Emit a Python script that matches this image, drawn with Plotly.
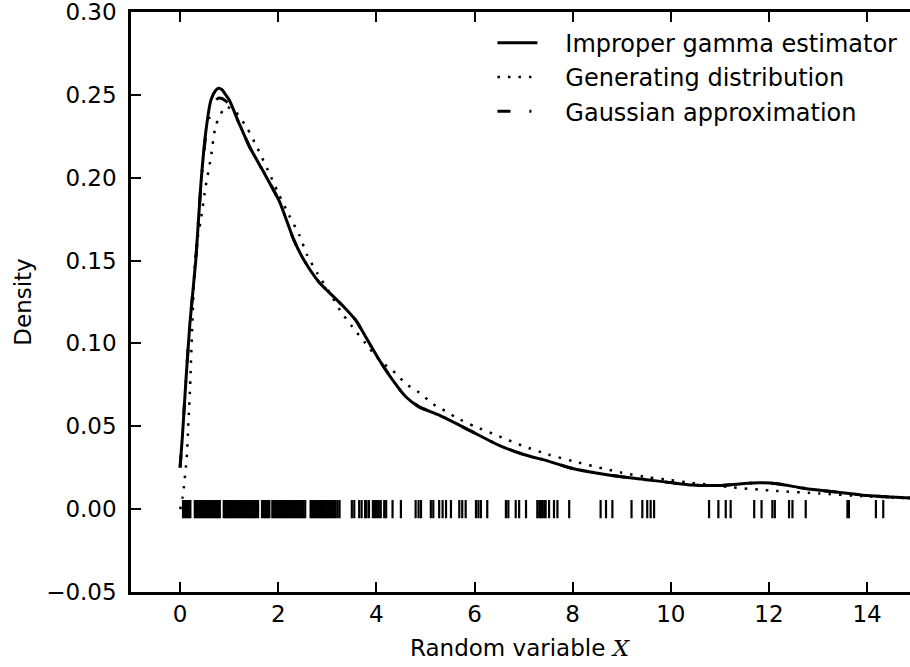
import plotly.graph_objects as go

# Improper gamma estimator (solid)
est_x = [0.0, 0.05, 0.12, 0.2, 0.32, 0.42, 0.52, 0.63, 0.72, 0.78, 0.85, 0.92, 1.0, 1.2, 1.41,
         1.68, 2.02, 2.32, 2.53, 2.83, 3.1, 3.34, 3.58, 3.82, 4.06, 4.33, 4.6, 4.87, 5.28,
         5.69, 6.0, 6.5, 7.0, 7.5, 8.0, 8.54, 9.0, 9.5, 10.0, 10.44, 11.0, 11.4, 11.8, 12.2,
         12.61, 13.0, 13.63, 14.0, 14.5, 14.9]
est_y = [0.025, 0.045, 0.078, 0.112, 0.150, 0.1945, 0.2267, 0.247, 0.2525, 0.254, 0.2532, 0.2505,
         0.247, 0.233, 0.219, 0.2046, 0.186, 0.1623, 0.150, 0.137, 0.129, 0.122, 0.114, 0.102,
         0.090, 0.078, 0.0678, 0.0617, 0.0567, 0.0507, 0.046, 0.0385, 0.033, 0.029, 0.0245,
         0.0215, 0.0195, 0.0178, 0.016, 0.0145, 0.0143, 0.0152, 0.0159, 0.0152, 0.0131,
         0.0115, 0.0095, 0.0082, 0.0073, 0.0067]

# Gaussian approximation (dash-dot), nearly on top of the estimator
gau_x = est_x
gau_y = [0.025, 0.045, 0.078, 0.112, 0.150, 0.1935, 0.2245, 0.241, 0.2465, 0.248, 0.2478, 0.2465,
         0.2445, 0.233, 0.219, 0.2046, 0.186, 0.1623, 0.150, 0.137, 0.129, 0.122, 0.114, 0.102,
         0.090, 0.078, 0.0678, 0.0617, 0.0567, 0.0507, 0.046, 0.0385, 0.033, 0.029, 0.0245,
         0.0215, 0.0195, 0.0178, 0.016, 0.0145, 0.0143, 0.0152, 0.0159, 0.0152, 0.0131,
         0.0115, 0.0095, 0.0082, 0.0073, 0.0067]

# Generating distribution (dotted)
gen_x = [0.0, 0.03, 0.05, 0.08, 0.1, 0.12, 0.14, 0.16, 0.18, 0.2, 0.32, 0.42, 0.52, 0.63, 0.73,
         0.93, 1.13, 1.37, 1.58, 1.85, 2.02, 2.22, 2.43, 2.59, 2.8, 3.04, 3.26, 3.51, 3.78,
         4.06, 4.23, 4.4, 4.56, 4.73, 4.91, 5.07, 5.24, 5.45, 5.62, 6.0, 6.5, 7.0, 7.5, 8.0,
         8.68, 9.0, 9.56, 10.0, 10.41, 11.0, 11.26, 12.14, 13.02, 13.9, 14.9]
gen_y = [0.0, 0.003, 0.007, 0.0135, 0.02, 0.026, 0.033, 0.046, 0.0585, 0.071, 0.156, 0.174,
         0.1945, 0.2126, 0.2317, 0.2428, 0.2398, 0.2297, 0.2177, 0.2006, 0.1895, 0.1774,
         0.1654, 0.1533, 0.1422, 0.1311, 0.120, 0.110, 0.100, 0.090, 0.0859, 0.0819, 0.0768,
         0.0728, 0.0698, 0.0654, 0.0617, 0.0587, 0.0553, 0.050, 0.044, 0.038, 0.033, 0.029,
         0.0241, 0.022, 0.0191, 0.0175, 0.0159, 0.014, 0.0131, 0.011, 0.0095, 0.0078, 0.0065]

# Observed sample (rug)
sample = [0.06, 0.09, 0.12, 0.15, 0.18, 0.21, 0.30, 0.33, 0.36, 0.39, 0.42, 0.45, 0.48, 0.51,
          0.54, 0.57, 0.60, 0.63, 0.66, 0.69, 0.72, 0.75, 0.78, 0.81, 0.89, 0.92, 0.95, 0.98,
          1.01, 1.04, 1.07, 1.10, 1.13, 1.16, 1.19, 1.22, 1.25, 1.28, 1.31, 1.34, 1.37, 1.40,
          1.43, 1.46, 1.49, 1.52, 1.55, 1.59, 1.67, 1.70, 1.73, 1.76, 1.79, 1.82, 1.88, 1.91,
          1.94, 1.97, 2.00, 2.03, 2.06, 2.09, 2.12, 2.15, 2.18, 2.21, 2.24, 2.27, 2.30, 2.33,
          2.36, 2.39, 2.42, 2.45, 2.48, 2.51, 2.55, 2.66, 2.69, 2.72, 2.75, 2.78, 2.81, 2.84,
          2.87, 2.90, 2.93, 2.96, 2.99, 3.02, 3.05, 3.08, 3.11, 3.14, 3.17, 3.21, 3.25, 3.50,
          3.55, 3.65, 3.70, 3.77, 3.80, 3.85, 3.93, 3.97, 4.01, 4.05, 4.09, 4.16, 4.20, 4.33,
          4.50, 4.80, 4.86, 4.91, 5.11, 5.16, 5.28, 5.35, 5.42, 5.52, 5.69, 5.75, 5.82, 6.03,
          6.08, 6.13, 6.26, 6.64, 6.69, 6.84, 6.91, 7.05, 7.28, 7.32, 7.35, 7.38, 7.42, 7.45,
          7.52, 7.62, 7.69, 7.93, 8.57, 8.68, 8.81, 9.20, 9.42, 9.52, 9.59, 9.66, 10.78, 10.97,
          11.12, 11.22, 11.70, 11.85, 12.07, 12.12, 12.41, 12.48, 12.75, 13.60, 13.63, 14.18,
          14.33]
rug_y = [0.0] * len(sample)

x_ticks = [0, 2, 4, 6, 8, 10, 12, 14]
x_labels = ["0", "2", "4", "6", "8", "10", "12", "14"]
y_ticks = [-0.05, 0.0, 0.05, 0.10, 0.15, 0.20, 0.25, 0.30]
y_labels = ["\u22120.05", "0.00", "0.05", "0.10", "0.15", "0.20", "0.25", "0.30"]

FONT = "DejaVu Sans"
PAD = "\u00a0\u00a0\u00a0"

fig = go.Figure()
fig.add_trace(go.Scatter(x=est_x, y=est_y, mode="lines", name=PAD + "Improper gamma estimator",
                         line=dict(color="black", width=3, shape="spline", smoothing=0.6)))
fig.add_trace(go.Scatter(x=gen_x, y=gen_y, mode="lines", name=PAD + "Generating distribution",
                         line=dict(color="black", width=2.5, dash="2.5px,8px",
                                   shape="spline", smoothing=0.6)))
fig.add_trace(go.Scatter(x=gau_x, y=gau_y, mode="lines", name=PAD + "Gaussian approximation",
                         line=dict(color="black", width=3, dash="13px,19px,2px,19px",
                                   shape="spline", smoothing=0.6)))
fig.add_trace(go.Scatter(x=sample, y=rug_y, mode="markers", showlegend=False,
                         marker=dict(symbol="line-ns-open", size=13, color="black",
                                     line=dict(color="black", width=2.2))))

fig.update_layout(
    width=910, height=667,
    margin=dict(l=131, r=0, t=12, b=75),
    paper_bgcolor="white", plot_bgcolor="white",
    font=dict(family=FONT, size=23, color="black"),
    showlegend=True,
    legend=dict(x=0.464, y=0.985, xanchor="left", yanchor="top",
                bgcolor="rgba(0,0,0,0)", borderwidth=0,
                font=dict(family=FONT, size=24, color="black"),
                itemwidth=40, tracegroupgap=0),
    xaxis=dict(range=[-1, 14.875], tickvals=x_ticks, ticktext=x_labels,
               ticks="inside", ticklen=10, tickwidth=1.5, tickcolor="black",
               showline=True, linecolor="black", linewidth=2.5, mirror="ticks",
               showgrid=False, zeroline=False, ticklabelstandoff=0,
               ticklabeloverflow="allow"),
    yaxis=dict(range=[-0.05, 0.30], tickvals=y_ticks, ticktext=y_labels,
               ticks="inside", ticklen=10, tickwidth=1.5, tickcolor="black",
               showline=True, linecolor="black", linewidth=2.5, mirror=False,
               showgrid=False, zeroline=False, ticklabelstandoff=7,
               ticklabeloverflow="allow"),
    annotations=[
        dict(text="Random variable <i><span style=\"font-family:DejaVu Serif\">X</span></i>",
             xref="paper", yref="paper",
             x=0.5, y=-0.0966, yanchor="middle", xanchor="center", showarrow=False,
             font=dict(family=FONT, size=23, color="black")),
        dict(text="Density", xref="paper", yref="paper", x=-0.139, y=0.5,
             xanchor="center", yanchor="middle", textangle=-90, showarrow=False,
             font=dict(family=FONT, size=23, color="black")),
    ],
)

fig.write_html("out.html", config={"displayModeBar": False},
               post_script="document.body.style.margin='0';")
